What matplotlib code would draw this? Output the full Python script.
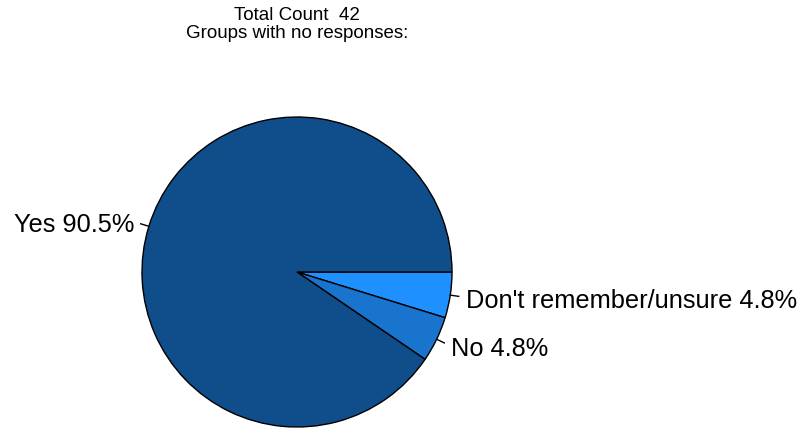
import numpy as np
import matplotlib.pyplot as plt

plt.rcParams['font.family'] = ['Liberation Sans', 'DejaVu Sans']

# data
labels = ["Don't remember/unsure", 'No', 'Yes']
counts = [2, 2, 38]
colors = ['#1E90FF', '#1874CD', '#104E8B']
total = sum(counts)

W, H = 802, 429
fig = plt.figure(figsize=(W / 100, H / 100), dpi=100)

# pie centre (297, 272) px, radius 155 px
cx, cy, r = 297, 272, 155
ax = fig.add_axes([(cx - r) / W, (H - cy - r) / H, 2 * r / W, 2 * r / H])

wedges, _ = ax.pie(counts, colors=colors, startangle=0, counterclock=False,
                   radius=1, wedgeprops=dict(edgecolor='black', linewidth=1))
ax.set_xlim(-1, 1)
ax.set_ylim(-1, 1)
ax.set_aspect('equal')
ax.axis('off')

for w, lab, c in zip(wedges, labels, counts):
    mid = np.deg2rad((w.theta1 + w.theta2) / 2)
    dx, dy = np.cos(mid), np.sin(mid)
    ax.plot([dx, 1.055 * dx], [dy, 1.055 * dy], color='black', lw=1, clip_on=False)
    ha = 'left' if dx > 0 else 'right'
    ax.text(1.1 * dx, 1.1 * dy - 0.02, f'{lab} {100 * c / total:.1f}%', ha=ha,
            va='center', fontsize=18.3, clip_on=False)

fig.text(297 / W, 1 - 7 / H, f'Total Count  {total}\nGroups with no responses:',
         ha='center', va='top', fontsize=13.5, linespacing=1.05)

fig.savefig('out.png', dpi=100)
